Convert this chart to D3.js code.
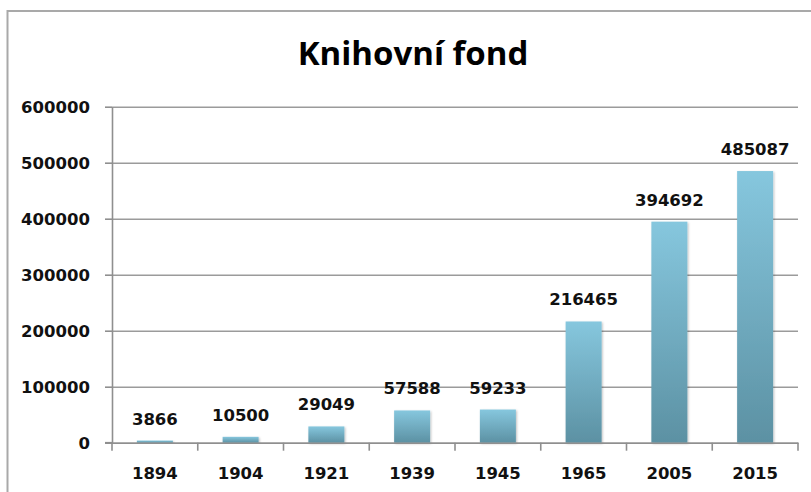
<!DOCTYPE html>
<html>
<head>
<meta charset="utf-8">
<script src="https://cdn.jsdelivr.net/npm/d3@7"></script>
<style>
  body { margin: 0; background: #fff; }
  svg { display: block; }
  .lbl { font-family: "DejaVu Sans", sans-serif; font-weight: bold; font-size: 16.5px; fill: #111; }
</style>
</head>
<body>
<script>
// data
var years = ["1894", "1904", "1921", "1939", "1945", "1965", "2005", "2015"];
var books = [3866, 10500, 29049, 57588, 59233, 216465, 394692, 485087];
var yTicks = [0, 100000, 200000, 300000, 400000, 500000, 600000];
var title = "Knihovní fond";

var W = 811, H = 492;
var margin = {top: 106.7, right: 13, bottom: 49.3, left: 112},
    width = W - margin.left - margin.right,
    height = H - margin.top - margin.bottom;

var svg = d3.select("body").append("svg")
    .attr("width", W)
    .attr("height", H);

// bar gradient + soft shadow
var defs = svg.append("defs");
var grad = defs.append("linearGradient")
    .attr("id", "barGrad")
    .attr("x1", 0).attr("y1", 0).attr("x2", 0).attr("y2", 1);
grad.append("stop").attr("offset", "0%").attr("stop-color", "#86c7de");
grad.append("stop").attr("offset", "100%").attr("stop-color", "#5c91a3");
var shadow = defs.append("filter").attr("id", "shadow")
    .attr("x", "-20%").attr("y", "-20%").attr("width", "140%").attr("height", "140%");
shadow.append("feDropShadow")
    .attr("dx", 1).attr("dy", 1).attr("stdDeviation", 1.2)
    .attr("flood-color", "#000").attr("flood-opacity", 0.25);

// outer frame (cropped at right/bottom)
svg.append("rect")
    .attr("x", 7.5).attr("y", 11)
    .attr("width", W + 20).attr("height", H + 20)
    .attr("fill", "none")
    .attr("stroke", "#a9a9a9")
    .attr("stroke-width", 2);

// title
svg.append("text")
    .attr("x", 413)
    .attr("y", 65)
    .attr("text-anchor", "middle")
    .style("font-family", "'Open Sans', sans-serif")
    .style("font-weight", "bold")
    .style("font-size", "33px")
    .style("fill", "#000")
    .text(title);

var g = svg.append("g")
    .attr("transform", "translate(" + margin.left + "," + margin.top + ")");

var x = d3.scaleBand().domain(years).range([0, width]).padding(0);
var y = d3.scaleLinear().domain([0, 600000]).range([height, 0]);
var barW = 36;

// gridlines
g.append("g")
    .attr("class", "grid")
    .call(d3.axisLeft(y).tickValues(yTicks).tickSize(-width).tickFormat(""))
    .call(function(s) {
      s.select(".domain").remove();
      s.selectAll("line").attr("stroke", "#9b9b9b").attr("stroke-width", 1.6);
    });

// y axis
g.append("g")
    .call(d3.axisLeft(y).tickValues(yTicks).tickFormat(d3.format("d"))
      .tickSize(7).tickPadding(15).tickSizeOuter(0))
    .call(function(s) {
      s.select(".domain").attr("stroke", "#8f8f8f").attr("stroke-width", 1.6);
      s.selectAll("line").attr("stroke", "#8f8f8f").attr("stroke-width", 1.6);
      s.selectAll("text").attr("class", "lbl").attr("fill", null).attr("dy", "0.36em");
    });

// bars
g.selectAll(".bar")
    .data(books)
    .enter().append("rect")
    .attr("class", "bar")
    .attr("x", function(d, i) { return x(years[i]) + x.bandwidth() / 2 - barW / 2; })
    .attr("y", function(d) { return y(d); })
    .attr("width", barW)
    .attr("height", function(d) { return height - y(d); })
    .attr("fill", "url(#barGrad)")
    .attr("filter", "url(#shadow)");

// x axis
var xAxis = g.append("g")
    .attr("transform", "translate(0," + height + ")")
    .call(d3.axisBottom(x).tickSize(0).tickPadding(0).tickSizeOuter(0))
    .call(function(s) {
      s.select(".domain").attr("stroke", "#8f8f8f").attr("stroke-width", 1.6);
      s.selectAll("text").attr("class", "lbl").attr("fill", null).attr("y", 36).attr("dy", 0);
    });
// category boundary ticks
var bounds = years.map(function(d) { return x(d); }).concat([width]);
xAxis.selectAll(".bound")
    .data(bounds)
    .enter().append("line")
    .attr("class", "bound")
    .attr("x1", function(d) { return d; })
    .attr("x2", function(d) { return d; })
    .attr("y1", 0).attr("y2", 8)
    .attr("stroke", "#8f8f8f").attr("stroke-width", 1.6);
// left tick stub on the x axis
xAxis.append("line")
    .attr("x1", -7).attr("x2", 0).attr("y1", 0).attr("y2", 0)
    .attr("stroke", "#8f8f8f").attr("stroke-width", 1.6);

// value labels
g.selectAll(".val")
    .data(books)
    .enter().append("text")
    .attr("class", "lbl")
    .attr("x", function(d, i) { return x(years[i]) + x.bandwidth() / 2; })
    .attr("y", function(d) { return y(d) - 16; })
    .attr("text-anchor", "middle")
    .text(function(d) { return d; });
</script>
</body>
</html>
